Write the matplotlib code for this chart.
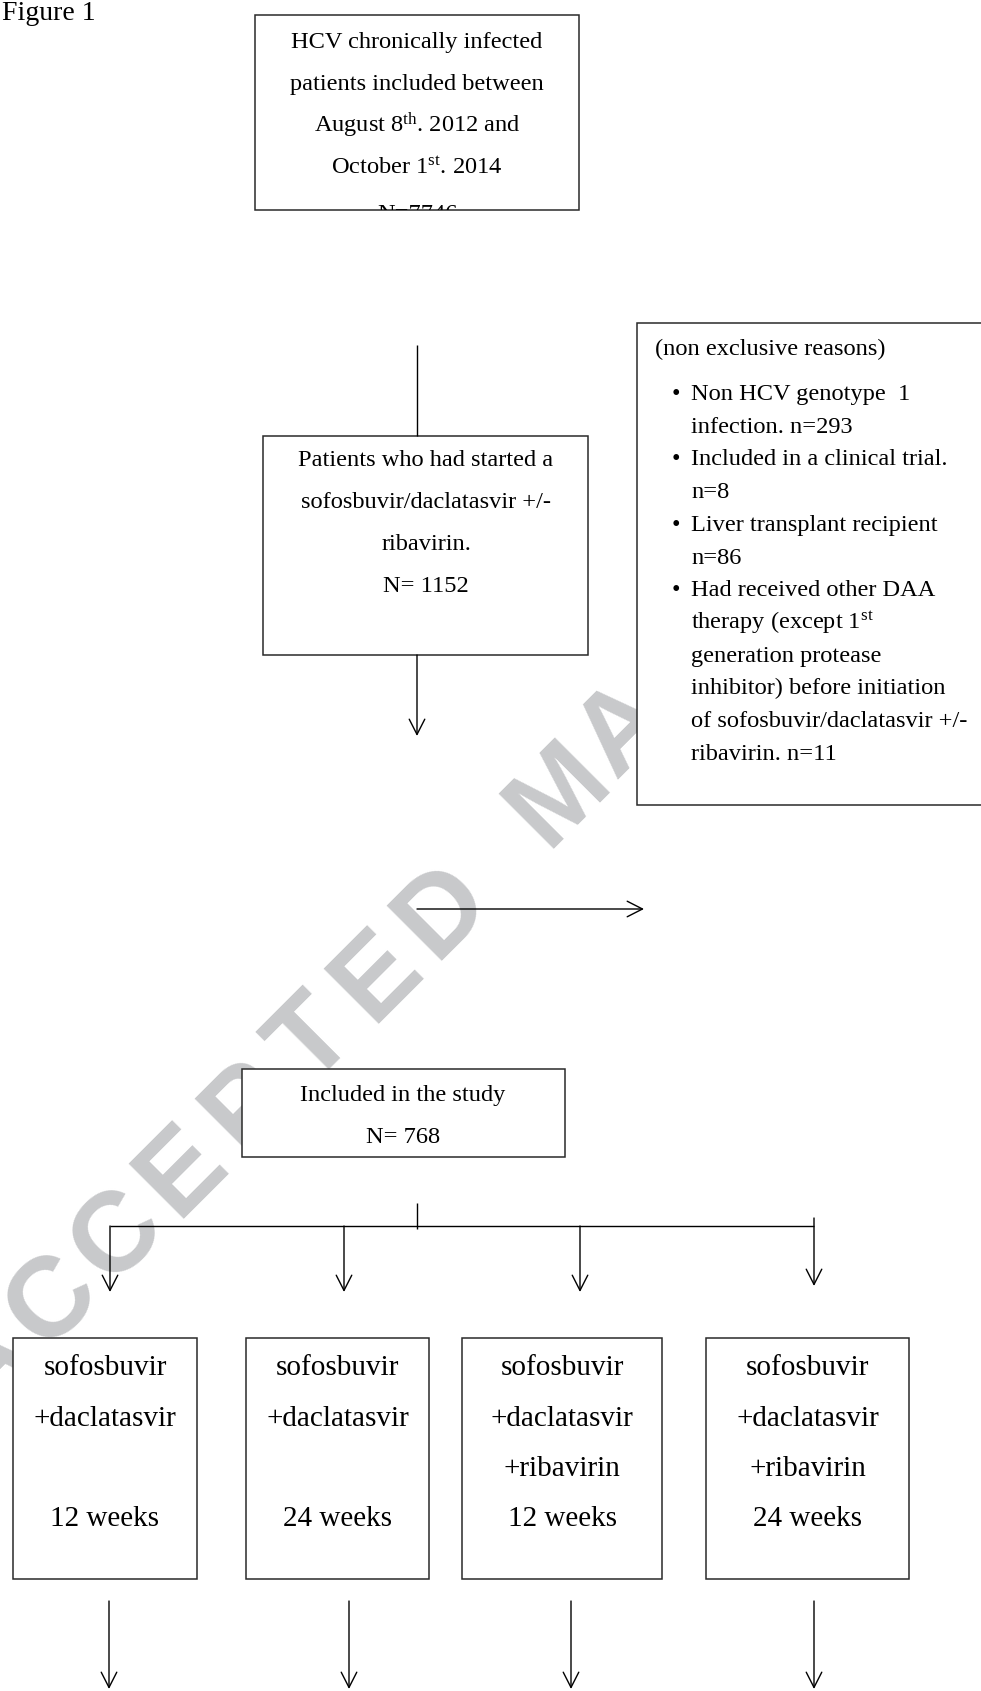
import matplotlib
matplotlib.use('agg')
import matplotlib.pyplot as plt
from matplotlib.patches import Rectangle
from matplotlib.transforms import Bbox
import numpy as np

plt.rcParams['font.family'] = ['Liberation Serif', 'DejaVu Serif']
plt.rcParams['mathtext.fontset'] = 'custom'
plt.rcParams['mathtext.rm'] = 'Liberation Serif'
plt.rcParams['mathtext.it'] = 'Liberation Serif:italic'

# ---- chart text ----
title = "Figure 1"
top_lines = ["HCV chronically infected",
             "patients included between",
             r"August 8$^{\mathrm{th}}$. 2012 and",
             r"October 1$^{\mathrm{st}}$. 2014",
             "N=7746"]
mid_lines = ["Patients who had started a",
             "sofosbuvir/daclatasvir +/-",
             "ribavirin.",
             "N= 1152"]
excl_header = "(non exclusive reasons)"
excl_items = [["Non HCV genotype  1", "infection. n=293"],
              ["Included in a clinical trial.", "n=8"],
              ["Liver transplant recipient", "n=86"],
              ["Had received other DAA",
               r"therapy (except 1$^{\mathrm{st}}$",
               "generation protease",
               "inhibitor) before initiation",
               "of sofosbuvir/daclatasvir +/-",
               "ribavirin. n=11"]]
incl_lines = ["Included in the study", "N= 768"]
arm_lines = [["sofosbuvir", "+daclatasvir", "", "12 weeks"],
             ["sofosbuvir", "+daclatasvir", "", "24 weeks"],
             ["sofosbuvir", "+daclatasvir", "+ribavirin", "12 weeks"],
             ["sofosbuvir", "+daclatasvir", "+ribavirin", "24 weeks"]]
# visible part of the watermark (the rest sits behind the exclusion box)
watermark = "ACCEPTED MA"

# ---- layout (pixel coordinates, y down) ----
W, H = 981, 1691
fig = plt.figure(figsize=(W / 100, H / 100), dpi=100)
ax = fig.add_axes([0, 0, 1, 1])
ax.set_xlim(0, W)
ax.set_ylim(H, 0)
ax.axis('off')

EDGE = '#2a2a2a'
FS = 17.6


def box(x0, y0, x1, y1):
    r = Rectangle((x0, y0), x1 - x0, y1 - y0, facecolor='white',
                  edgecolor=EDGE, lw=1.1, zorder=3)
    ax.add_patch(r)
    return r


def line(x0, y0, x1, y1):
    ax.plot([x0, x1], [y0, y1], color='black', lw=1.0, zorder=4,
            solid_capstyle='butt')


def arrow(x0, y0, x1, y1):
    ax.annotate('', xy=(x1, y1), xytext=(x0, y0),
                arrowprops=dict(arrowstyle='->,head_length=0.55,head_width=0.28',
                                color='black', lw=1.0, mutation_scale=20,
                                shrinkA=0, shrinkB=0), zorder=4)


# watermark: letters along the line x + y = const at 45 degrees, behind boxes
WM_FS = 82
cap = 0.716 * WM_FS * 100 / 72          # cap height in px
u = np.array([1, -1]) / np.sqrt(2)        # along the text
n = np.array([1, 1]) / np.sqrt(2)         # towards the baseline
p0 = 946 + cap / 2                        # baseline offset
s = -975.0
for ch in watermark:
    if ch == ' ':
        s += 72
        continue
    x, y = s * u + p0 * n
    ax.text(x, y, ch, fontsize=WM_FS, family='Liberation Sans', weight='bold',
            color='#c8c9cb', rotation=45, rotation_mode='anchor',
            ha='center', va='baseline', zorder=1)
    s += 92

ax.text(2, 20, title, fontsize=20, ha='left', va='baseline', zorder=5)

# top box; its last line is cut by the bottom edge
box(255, 15, 579, 210)
(px0, py0), (px1, py1) = ax.transData.transform([(255, 15), (579, 210)])
clip = Bbox.from_extents(min(px0, px1), min(py0, py1), max(px0, px1), max(py0, py1))
for i, s_ in enumerate(top_lines):
    t = ax.text(417, 48 + i * 42 + (4 if i == 4 else 0), s_, fontsize=FS,
                ha='center', va='baseline', zorder=5)
    t.set_clip_box(clip)
    t.set_clip_on(True)

line(417, 345, 417, 436)

# middle box
box(263, 436, 588, 655)
for i, s_ in enumerate(mid_lines):
    ax.text(426, 466 + i * 42, s_, fontsize=FS, ha='center', va='baseline', zorder=5)
arrow(417, 655, 417, 736)

# exclusion box
box(637, 323, 990, 805)
ax.text(655, 355, excl_header, fontsize=FS, ha='left', va='baseline', zorder=5)
k = 0
for item in excl_items:
    for j, s_ in enumerate(item):
        yb = 400 + k * 32.7
        if j == 0:
            ax.text(676, yb, '\u2022', fontsize=FS, ha='center', va='baseline', zorder=5)
        ax.text(691, yb, s_, fontsize=FS, ha='left', va='baseline', zorder=5)
        k += 1

arrow(417, 909, 644, 909)

# included box
box(242, 1069, 565, 1157)
for i, s_ in enumerate(incl_lines):
    ax.text(403, 1101 + i * 42, s_, fontsize=FS, ha='center', va='baseline', zorder=5)

line(417, 1203, 417, 1229)
line(110, 1226, 814, 1226)
arm_x = [110, 344, 580]
for x in arm_x:
    arrow(x, 1226, x, 1292)
arrow(814, 1218, 814, 1286)

# treatment arm boxes
arm_boxes = [(13, 197), (246, 429), (462, 662), (706, 909)]
for (x0, x1), lines_ in zip(arm_boxes, arm_lines):
    box(x0, 1338, x1, 1579)
    for i, s_ in enumerate(lines_):
        if s_:
            ax.text((x0 + x1) / 2, 1375 + i * 50.5, s_, fontsize=21,
                    ha='center', va='baseline', zorder=5)

for x in [109, 349, 571, 814]:
    arrow(x, 1601, x, 1689)

fig.savefig('out.png', dpi=100, facecolor='white')
